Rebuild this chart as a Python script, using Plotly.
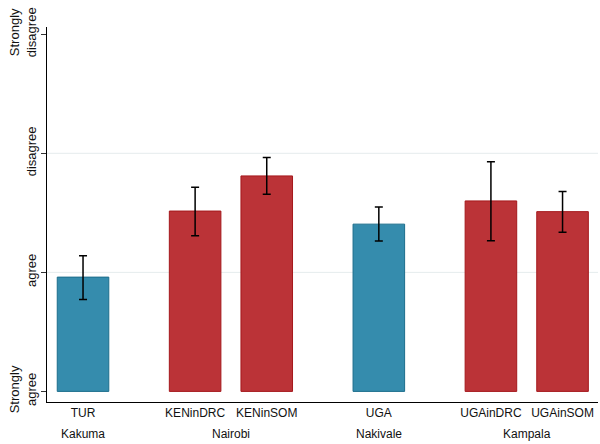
import plotly.graph_objects as go

# ---- data ----
categories = ["TUR", "KENinDRC", "KENinSOM", "UGA", "UGAinDRC", "UGAinSOM"]
groups = ["Kakuma", "Nairobi", "Nakivale", "Kampala"]
group_sizes = [1, 2, 1, 2]
means = [1.96, 2.515, 2.81, 2.405, 2.60, 2.51]
ci_high = [2.14, 2.715, 2.965, 2.55, 2.93, 2.68]
ci_low = [1.772, 2.307, 2.657, 2.263, 2.265, 2.336]
bar_kind = ["host", "abroad", "abroad", "host", "abroad", "abroad"]
y_tick_values = [1, 2, 3, 4]
y_tick_labels = ["Strongly<br>agree", "agree", "disagree", "Strongly<br>disagree"]

# ---- layout helpers ----
BLUE, BLUE_EDGE = "#358cad", "#1d6e8c"
RED, RED_EDGE = "#bb3337", "#a5181c"
inner_step, group_step = 1.0, 1.565

xpos, group_centers = [], []
cur = 0.0
for gi, n in enumerate(group_sizes):
    if gi > 0:
        cur += group_step - inner_step
    start = cur
    for k in range(n):
        xpos.append(cur)
        cur += inner_step
    group_centers.append((start + cur - inner_step) / 2)

fill = [BLUE if k == "host" else RED for k in bar_kind]
edge = [BLUE_EDGE if k == "host" else RED_EDGE for k in bar_kind]
err_plus = [h - m for h, m in zip(ci_high, means)]
err_minus = [m - l for m, l in zip(means, ci_low)]

fig = go.Figure()
fig.add_trace(go.Bar(
    x=xpos, y=[m - 1 for m in means], base=1, width=0.72,
    marker=dict(color=fill, line=dict(color=edge, width=1)),
    error_y=dict(type="data", symmetric=False, array=err_plus, arrayminus=err_minus,
                 color="black", thickness=1.5, width=4),
    hoverinfo="skip", showlegend=False,
))

for yv in [2, 3]:
    fig.add_shape(type="line", xref="paper", yref="y", x0=0, x1=1, y0=yv, y1=yv,
                  line=dict(color="#e5eced", width=1), layer="below")

for gc, g in zip(group_centers, groups):
    fig.add_annotation(x=gc, xref="x", y=-0.085, yref="paper", text=g,
                       showarrow=False, font=dict(size=12, color="#111"),
                       xanchor="center", yanchor="middle")

fig.update_layout(
    width=600, height=444,
    margin=dict(l=47, r=2, t=27, b=42),
    paper_bgcolor="white", plot_bgcolor="white",
    font=dict(family="Liberation Sans, Arial, Helvetica, sans-serif", size=12, color="#111"),
    xaxis=dict(range=[-0.503, 7.19], tickvals=xpos, ticktext=categories,
               showline=True, linecolor="black", linewidth=1, ticks="",
               showgrid=False, zeroline=False, tickfont=dict(size=12)),
    yaxis=dict(range=[0.911, 4.061], tickvals=y_tick_values, ticktext=y_tick_labels,
               tickangle=-90, showline=True, linecolor="black", linewidth=1,
               ticks="outside", ticklen=5, tickcolor="#333", showgrid=False,
               zeroline=False, tickfont=dict(size=13)),
)

fig.write_html("out.html", config={"displayModeBar": False},
               post_script="document.body.style.margin='0';document.body.style.overflow='hidden';")
